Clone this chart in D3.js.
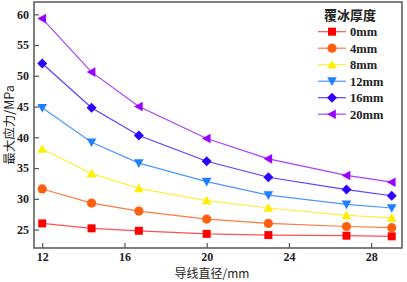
<!DOCTYPE html>
<html>
<head>
<meta charset="utf-8">
<script src="https://cdn.jsdelivr.net/npm/d3@7"></script>
<style>
  body { margin: 0; background: #fff; }
  svg text { font-family: "Liberation Serif", "DejaVu Serif", serif; }
</style>
</head>
<body>
<script>
// data
var diameters = [12, 14.4, 16.7, 20, 23, 26.8, 29];
var iceLabels = ["0mm", "4mm", "8mm", "12mm", "16mm", "20mm"];
var stress0 = [26.0, 25.2, 24.8, 24.3, 24.1, 24.0, 23.9];
var stress4 = [31.6, 29.3, 28.0, 26.7, 26.0, 25.5, 25.3];
var stress8 = [38.1, 34.1, 31.7, 29.7, 28.5, 27.3, 26.9];
var stress12 = [44.8, 39.2, 35.8, 32.8, 30.6, 29.1, 28.5];
var stress16 = [52.0, 44.8, 40.3, 36.1, 33.5, 31.5, 30.5];
var stress20 = [59.3, 50.6, 45.0, 39.8, 36.5, 33.8, 32.7];
var xTicks = [12, 16, 20, 24, 28];
var yTicks = [25, 30, 35, 40, 45, 50, 55, 60];

var seriesValues = [stress0, stress4, stress8, stress12, stress16, stress20];
var colors = ["#ff0000", "#ff6010", "#ffee00", "#1e80ff", "#3000ff", "#9a00ff"];
var lineColors = ["#ff5050", "#ff7a40", "#ffee40", "#4a98ff", "#5a40ff", "#a840ff"];
var symbols = ["square", "circle", "up", "down", "diamond", "left"];

var width = 407, height = 282;
var margin = {left: 34, right: 5, top: 2, bottom: 34};

var svg = d3.select("body").append("svg")
    .attr("width", width)
    .attr("height", height);

var x = d3.scaleLinear().domain([11.6, 29.5]).range([margin.left, width - margin.right]);
var y = d3.scaleLinear().domain([22, 62]).range([height - margin.bottom, margin.top]);

// frame
svg.append("rect")
    .attr("x", x.range()[0]).attr("y", y.range()[1])
    .attr("width", x.range()[1] - x.range()[0])
    .attr("height", y.range()[0] - y.range()[1])
    .attr("fill", "none").attr("stroke", "#555").attr("stroke-width", 1.5);

var xAxis = svg.append("g")
    .attr("transform", "translate(0," + y.range()[0] + ")")
    .call(d3.axisBottom(x).tickValues(xTicks).tickSizeInner(-5).tickSizeOuter(0).tickPadding(4));
var yAxis = svg.append("g")
    .attr("transform", "translate(" + x.range()[0] + ",0)")
    .call(d3.axisLeft(y).tickValues(yTicks).tickSizeInner(-5).tickSizeOuter(0).tickPadding(5));

[xAxis, yAxis].forEach(a => {
    a.select(".domain").remove();
    a.selectAll(".tick line").attr("stroke", "#555").attr("stroke-width", 1.2);
    a.selectAll(".tick text")
        .attr("fill", "#222")
        .style("font-size", "12px")
        .style("font-weight", "bold");
});

// marker shapes
function marker(sel, kind, color) {
    var s = 4.8;
    if (kind == "square") {
        sel.append("rect").attr("x", -4).attr("y", -4).attr("width", 8).attr("height", 8).attr("fill", color);
    } else if (kind == "circle") {
        sel.append("circle").attr("r", 4.6).attr("fill", color);
    } else {
        var pts;
        if (kind == "up") pts = [[0, -s], [s, s * 0.8], [-s, s * 0.8]];
        if (kind == "down") pts = [[0, s], [s, -s * 0.8], [-s, -s * 0.8]];
        if (kind == "left") pts = [[-s, 0], [s * 0.8, -s], [s * 0.8, s]];
        if (kind == "diamond") pts = [[0, -5], [5, 0], [0, 5], [-5, 0]];
        sel.append("polygon").attr("points", pts.map(p => p.join(",")).join(" ")).attr("fill", color);
    }
}

var line = d3.line()
    .x((d, i) => x(diameters[i]))
    .y(d => y(d));

seriesValues.forEach((vals, k) => {
    svg.append("path")
        .attr("d", line(vals))
        .attr("fill", "none")
        .attr("stroke", lineColors[k])
        .attr("stroke-width", 1.2);
    vals.forEach((v, i) => {
        var g = svg.append("g").attr("transform", "translate(" + x(diameters[i]) + "," + y(v) + ")");
        marker(g, symbols[k], colors[k]);
    });
});

// legend
var legend = svg.append("g");
legend.append("text")
    .attr("x", 350).attr("y", 20)
    .attr("text-anchor", "middle")
    .style("font-family", "'Noto Sans CJK SC', sans-serif")
    .style("font-size", "13px")
    .style("font-weight", "bold")
    .attr("fill", "#222")
    .text("覆冰厚度");

iceLabels.forEach((lab, k) => {
    var ly = 31.7 + k * 16.5;
    legend.append("line")
        .attr("x1", 318).attr("x2", 346).attr("y1", ly).attr("y2", ly)
        .attr("stroke", lineColors[k]).attr("stroke-width", 1.2);
    marker(legend.append("g").attr("transform", "translate(332," + ly + ")"), symbols[k], colors[k]);
    legend.append("text")
        .attr("x", 350).attr("y", ly + 4.5)
        .style("font-size", "12.5px")
        .style("font-weight", "bold")
        .attr("fill", "#222")
        .text(lab);
});

// axis titles
svg.append("text")
    .attr("x", 212).attr("y", 277.5)
    .attr("text-anchor", "middle")
    .style("font-family", "'Noto Sans CJK SC', sans-serif")
    .style("font-size", "12px")
    .attr("fill", "#222")
    .text("导线直径/mm");

svg.append("text")
    .attr("transform", "translate(14," + ((y.range()[0] + y.range()[1]) / 2) + ") rotate(-90)")
    .attr("text-anchor", "middle")
    .style("font-family", "'Noto Sans CJK SC', sans-serif")
    .style("font-size", "12.5px")
    .attr("fill", "#222")
    .text("最大应力/MPa");
</script>
</body>
</html>
